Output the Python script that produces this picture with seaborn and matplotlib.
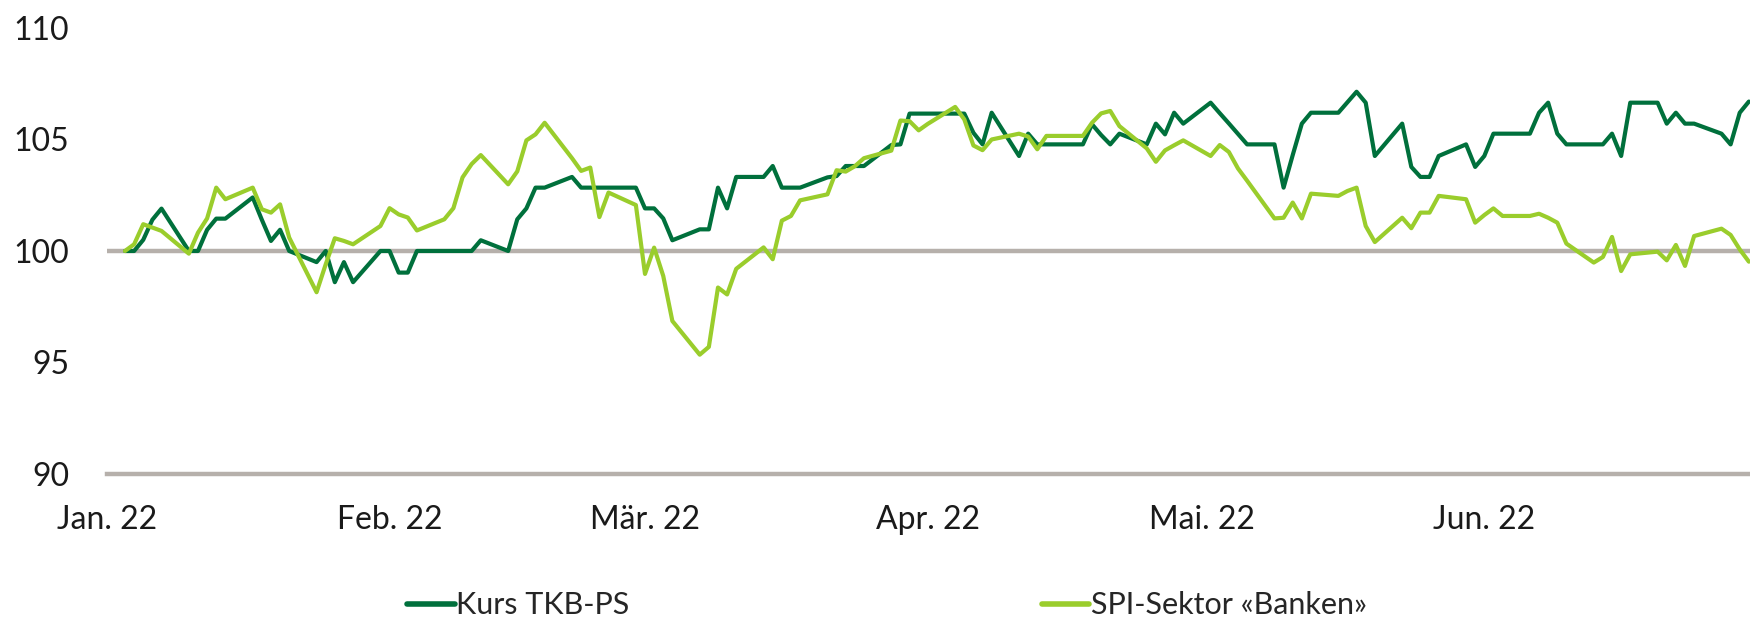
import matplotlib
matplotlib.use("Agg")
import matplotlib.pyplot as plt
import seaborn as sns
import pandas as pd

# =====================
# Daten (Handelstage Jan - Jun 2022, indexiert auf 100)
# =====================
tkb_ps = [
    # Jan
    100.0, 100.0, 100.5, 101.4, 101.9, 100.0, 100.0, 100.95, 101.45, 101.45,
    102.4, 101.4, 100.45, 100.95, 100.0, 99.5, 100.0, 98.6, 99.5, 98.6, 100.0,
    # Feb
    100.0, 99.03, 99.03, 100.0, 100.0, 100.0, 100.0, 100.0, 100.48, 100.0,
    101.42, 101.91, 102.84, 102.84, 103.32, 102.84, 102.84, 102.84, 102.84, 102.84,
    # Mär
    101.91, 101.91, 101.46, 100.48, 100.97, 100.97, 102.84, 101.91, 103.32, 103.32,
    103.81, 102.84, 102.84, 102.84, 103.3, 103.36, 103.81, 103.81, 103.81, 104.75,
    104.78, 106.16, 106.16,
    # Apr
    106.16, 106.16, 106.16, 105.3, 104.78, 106.2, 104.26, 105.26, 104.78, 104.78,
    104.78, 104.78, 105.68, 105.2, 104.78, 105.26, 104.78, 105.71, 105.23, 106.2,
    105.71,
    # Mai
    106.65, 106.18, 105.72, 105.25, 104.78, 104.78, 102.84, 104.3, 105.71, 106.2,
    106.2, 106.67, 107.14, 106.65, 104.26, 105.71, 103.77, 103.32, 103.32, 104.26,
    104.78, 103.77,
    # Jun
    104.26, 105.26, 105.26, 105.26, 106.2, 106.65, 105.26, 104.78, 104.78, 104.78,
    105.26, 104.26, 106.65, 106.65, 105.71, 106.2, 105.71, 105.71, 105.26, 104.78,
    106.2, 106.7,
]

spi_banken = [
    # Jan
    100.0, 100.3, 101.2, 101.05, 100.9, 99.88, 100.82, 101.46, 102.84, 102.32,
    102.84, 101.87, 101.72, 102.09, 100.6, 98.15, 99.4, 100.57, 100.45, 100.3, 101.12,
    # Feb
    101.92, 101.64, 101.5, 100.92, 101.42, 101.92, 103.3, 103.9, 104.3, 102.99,
    103.57, 104.96, 105.23, 105.75, 104.16, 103.59, 103.74, 101.52, 102.62, 102.06,
    # Mär
    98.97, 100.15, 98.88, 96.86, 95.35, 95.7, 98.36, 98.05, 99.2, 100.16,
    99.63, 101.36, 101.57, 102.27, 102.54, 103.62, 103.56, 103.8, 104.16, 104.5,
    105.85, 105.82, 105.41,
    # Apr
    105.7, 106.46, 105.9, 104.73, 104.52, 105.0, 105.26, 105.13, 104.56, 105.16,
    105.16, 105.16, 105.75, 106.17, 106.28, 105.6, 104.6, 104.0, 104.51, 104.74,
    104.96,
    # Mai
    104.26, 104.75, 104.44, 103.7, 103.15, 101.46, 101.49, 102.17, 101.46, 102.57,
    102.47, 102.69, 102.84, 101.12, 100.4, 101.49, 101.02, 101.72, 101.72, 102.47,
    102.32, 101.27,
    # Jun
    101.61, 101.91, 101.57, 101.57, 101.67, 101.49, 101.27, 100.33, 99.48, 99.73,
    100.63, 99.1, 99.85, 99.97, 99.58, 100.27, 99.33, 100.67, 101.0, 100.72,
    100.07, 99.52,
]

dates = pd.bdate_range("2022-01-03", "2022-06-30")

month_ticks = pd.date_range("2022-01-01", "2022-06-01", freq="MS")
month_labels = ["Jan. 22", "Feb. 22", "Mär. 22", "Apr. 22", "Mai. 22", "Jun. 22"]
y_ticks = [90, 95, 100, 105, 110]

SERIES = ["Kurs TKB-PS", "SPI-Sektor «Banken»"]
COLORS = ["#00703C", "#9ACD2C"]
GRAY = "#B6B0AB"

df = pd.DataFrame({"Datum": dates, SERIES[0]: tkb_ps, SERIES[1]: spi_banken})
df_long = df.melt(id_vars="Datum", var_name="Serie", value_name="Wert")

# =====================
# Plot
# =====================
sns.set_style("white")
plt.rcParams["font.family"] = ["Lato", "DejaVu Sans"]

fig = plt.figure(figsize=(17.5, 6.19), dpi=100)
ax = fig.add_axes([0.061, 0.2343, 0.939, 0.7205])

# Referenzlinie 100
ax.axhline(100, color=GRAY, lw=3.2, zorder=1)

sns.lineplot(
    data=df_long, x="Datum", y="Wert", hue="Serie",
    hue_order=SERIES, palette=COLORS, linewidth=3,
    ax=ax, legend=False, zorder=3,
)

ax.set_xlim(pd.Timestamp("2022-01-01"), pd.Timestamp("2022-06-30 03:00"))
ax.set_ylim(90, 110)
ax.set_xticks(month_ticks)
ax.set_xticklabels(month_labels)
ax.set_yticks(y_ticks)
ax.set_xlabel("")
ax.set_ylabel("")
ax.tick_params(axis="both", length=0, labelsize=23, colors="#1a1a1a")
ax.tick_params(axis="x", pad=22)
ax.tick_params(axis="y", pad=27)

for side in ["top", "right", "left"]:
    ax.spines[side].set_visible(False)
ax.spines["bottom"].set_color(GRAY)
ax.spines["bottom"].set_linewidth(3.2)

handles = [plt.Line2D([], [], color=c, lw=4) for c in COLORS]
fig.legend(
    handles, SERIES, loc="center", bbox_to_anchor=(0.507, 0.022),
    ncol=2, frameon=False, fontsize=22, handlelength=1.55,
    handletextpad=0.05, columnspacing=13.5,
)

fig.savefig("out.png", dpi=100)
